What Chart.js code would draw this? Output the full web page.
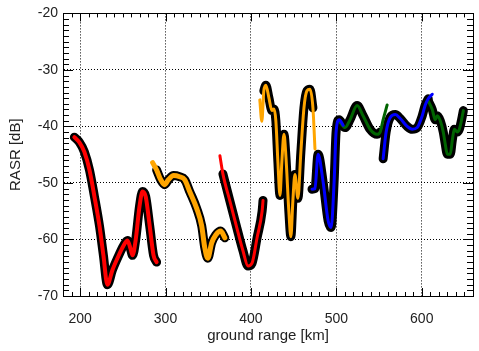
<!DOCTYPE html>
<html>
<head>
<meta charset="utf-8">
<script src="https://cdn.jsdelivr.net/npm/chart.js@4/dist/chart.umd.min.js"></script>
<style>
  html, body { margin: 0; padding: 0; background: #fff; }
  #wrap { width: 479px; height: 351px; }
</style>
</head>
<body>
<div id="wrap"><canvas id="chart-rasr"></canvas></div>
<script>
// RASR vs ground range, per swath segment
const red1X = [193.3, 199.2, 205, 211, 216.8, 222.7, 227.3, 232, 237.9, 243.8, 250.8, 255.5, 259, 261.4, 265, 269.6, 273.1, 276.8, 281.5, 286, 289.6];
const red1Y = [-41.9, -42.8, -44.5, -47.7, -52.4, -57.6, -62.8, -68.0, -65.4, -63.3, -61.1, -60.2, -61.6, -62.8, -60.2, -54.1, -51.5, -52.4, -57.6, -62.8, -64];

const orange1X = [284.9, 289.6, 294.3, 299, 303.6, 309.5, 316.5, 322.4, 328.3, 336.5, 342.4, 345.9, 349.5, 354.1, 358.8, 364.7, 369.4];
const orange1Y = [-46.4, -47.7, -49.4, -50.3, -49.4, -48.7, -48.9, -49.4, -51.5, -54.5, -57.6, -61.4, -63.3, -60.6, -59.2, -58.5, -59.7];

const red2X = [363.7, 367.2, 375.4, 383.6, 390.7, 396.6, 401.3, 407.2, 413.1, 414.2];
const red2Y = [-45.2, -48.4, -53.2, -58.0, -62.0, -64.7, -64.2, -59.7, -55.0, -53.1];

const orange2X = [410.4, 412.8, 415.1, 417.5, 421, 424.6, 427, 429.2, 431.6, 434, 436.2, 438.7, 441, 444.4, 446.8, 449.1, 451.5, 455, 458.5, 462.1, 465.6, 469.1, 472.6, 475];
const orange2Y = [-35.3, -39.1, -33.7, -32.7, -34.9, -37.2, -36.9, -39.0, -46.3, -52.2, -46.3, -41.4, -45.4, -55.0, -59.5, -53.2, -48.5, -52.7, -44.5, -36.7, -33.7, -33.4, -36.7, -44.0];

const blue1X = [471.5, 475, 478.6, 484.5, 490.4, 493.9, 497.4, 499.7, 503.3, 508];
const blue1Y = [-51.1, -51.0, -44.9, -49.8, -56.7, -57.9, -49.8, -41.0, -38.8, -39.8];

const green1X = [504.4, 510.2, 516.1, 524.3, 531.3, 539.5, 547.7, 551.3, 554.8, 559.5];
const green1Y = [-39.3, -40.2, -38.8, -36.3, -38.1, -40.5, -41.4, -41.0, -38.8, -36.2];

const blue2X = [554.8, 558.3, 563.1, 569, 574.8, 583, 588.9, 594.7, 600.6, 604.1, 607.6, 612.3];
const blue2Y = [-45.7, -41.0, -38.4, -37.9, -38.6, -40.0, -40.5, -40.2, -38.1, -36.2, -35.1, -34.3];

const green2X = [607.6, 612.3, 615.8, 618.2, 621.7, 625.2, 627.5, 629.9, 633.4, 635.8, 638.1, 641.6, 644, 646.4, 648.7];
const green2Y = [-35.5, -37.0, -38.8, -38.1, -39.0, -41.0, -43.1, -44.9, -44.9, -42.4, -40.5, -41.0, -40.5, -39.0, -37.2];

const xTicks = [200, 300, 400, 500, 600];
const yTicks = [-70, -60, -50, -40, -30, -20];

// segmen: warna, lebar garis, bagian yang diberi outline hitam (index awal/akhir)
const segments = [
    { xs: red1X, ys: red1Y, color: '#ff0000', width: 4, from: 0, to: red1X.length },
    { xs: orange1X, ys: orange1Y, color: '#ffa500', width: 5, from: 1, to: orange1X.length },
    { xs: red2X, ys: red2Y, color: '#ff0000', width: 3, from: 1, to: red2X.length },
    { xs: orange2X, ys: orange2Y, color: '#ffa500', width: 3, from: 2, to: 23 },
    { xs: blue1X, ys: blue1Y, color: '#0000ff', width: 3, from: 0, to: blue1X.length },
    { xs: green1X, ys: green1Y, color: '#006400', width: 3, from: 0, to: 8 },
    { xs: blue2X, ys: blue2Y, color: '#0000ff', width: 3, from: 0, to: 11 },
    { xs: green2X, ys: green2Y, color: '#006400', width: 3, from: 0, to: green2X.length },
];

function pts(xs, ys) {
    return xs.map((x, i) => ({ x: x, y: ys[i] }));
}

const lineBase = {
    showLine: true,
    pointRadius: 0,
    cubicInterpolationMode: 'monotone',
    borderCapStyle: 'round',
    borderJoinStyle: 'round',
    fill: false,
};

const datasets = [];
segments.forEach(s => {
    datasets.push({
        ...lineBase,
        data: pts(s.xs, s.ys).slice(s.from, s.to),
        borderColor: '#000000',
        borderWidth: 9,
        order: 2,
    });
});
segments.forEach(s => {
    datasets.push({
        ...lineBase,
        data: pts(s.xs, s.ys),
        borderColor: s.color,
        borderWidth: s.width,
        order: 1,
    });
});

// tick kecil ke dalam di keempat sisi + bingkai
const frameTicks = {
    id: 'frameTicks',
    afterDraw(chart) {
        const { ctx, chartArea: a, scales } = chart;
        const sx = scales.x, sy = scales.y;
        ctx.save();
        ctx.strokeStyle = '#000';
        ctx.lineWidth = 1;
        ctx.beginPath();
        for (let v = 180; v <= 660; v += 10) {
            const p = Math.round(sx.getPixelForValue(v)) + 0.5;
            const len = v % 100 === 0 ? 8 : 4;
            ctx.moveTo(p, a.bottom); ctx.lineTo(p, a.bottom - len);
            ctx.moveTo(p, a.top); ctx.lineTo(p, a.top + len);
        }
        for (let v = -70; v <= -20; v += 1) {
            const p = Math.round(sy.getPixelForValue(v)) + 0.5;
            const len = v % 10 === 0 ? 10 : 6;
            ctx.moveTo(a.left, p); ctx.lineTo(a.left + len, p);
            ctx.moveTo(a.right, p); ctx.lineTo(a.right - len, p);
        }
        ctx.stroke();
        ctx.strokeRect(Math.round(a.left) + 0.5, Math.round(a.top) + 0.5,
            Math.round(a.right - a.left), Math.round(a.bottom - a.top));
        ctx.restore();
    },
};

const gridStyle = {
    color: '#000',
    lineWidth: 1,
    drawTicks: false,
    tickLength: 0,
};

new Chart(document.getElementById('chart-rasr'), {
    type: 'scatter',
    data: { datasets: datasets },
    options: {
        responsive: true,
        maintainAspectRatio: false,
        animation: false,
        layout: { padding: { top: 9, right: 6, left: 0, bottom: 0 } },
        plugins: {
            legend: { display: false },
            tooltip: { enabled: false },
        },
        scales: {
            x: {
                type: 'linear',
                min: 180,
                max: 660,
                afterBuildTicks: scale => { scale.ticks = xTicks.map(v => ({ value: v })); },
                afterFit: scale => { scale.height = 55; },
                grid: gridStyle,
                border: { display: true, color: '#000', dash: [1, 2] },
                ticks: {
                    color: '#222',
                    padding: 15,
                    maxRotation: 0,
                    font: { family: 'Liberation Sans', size: 14 },
                },
                title: {
                    display: true,
                    text: 'ground range [km]',
                    color: '#222',
                    padding: { top: 0, bottom: 6 },
                    font: { family: 'Liberation Sans', size: 15 },
                },
            },
            y: {
                min: -70,
                max: -20,
                afterBuildTicks: scale => { scale.ticks = yTicks.map(v => ({ value: v })); },
                afterFit: scale => { scale.width = 63; },
                grid: gridStyle,
                border: { display: true, color: '#000', dash: [1, 2] },
                ticks: {
                    color: '#222',
                    padding: 5,
                    font: { family: 'Liberation Sans', size: 14 },
                },
                title: {
                    display: true,
                    text: 'RASR [dB]',
                    color: '#222',
                    padding: { top: 7, bottom: 0 },
                    font: { family: 'Liberation Sans', size: 15 },
                },
            },
        },
    },
    plugins: [frameTicks],
});
</script>
</body>
</html>
